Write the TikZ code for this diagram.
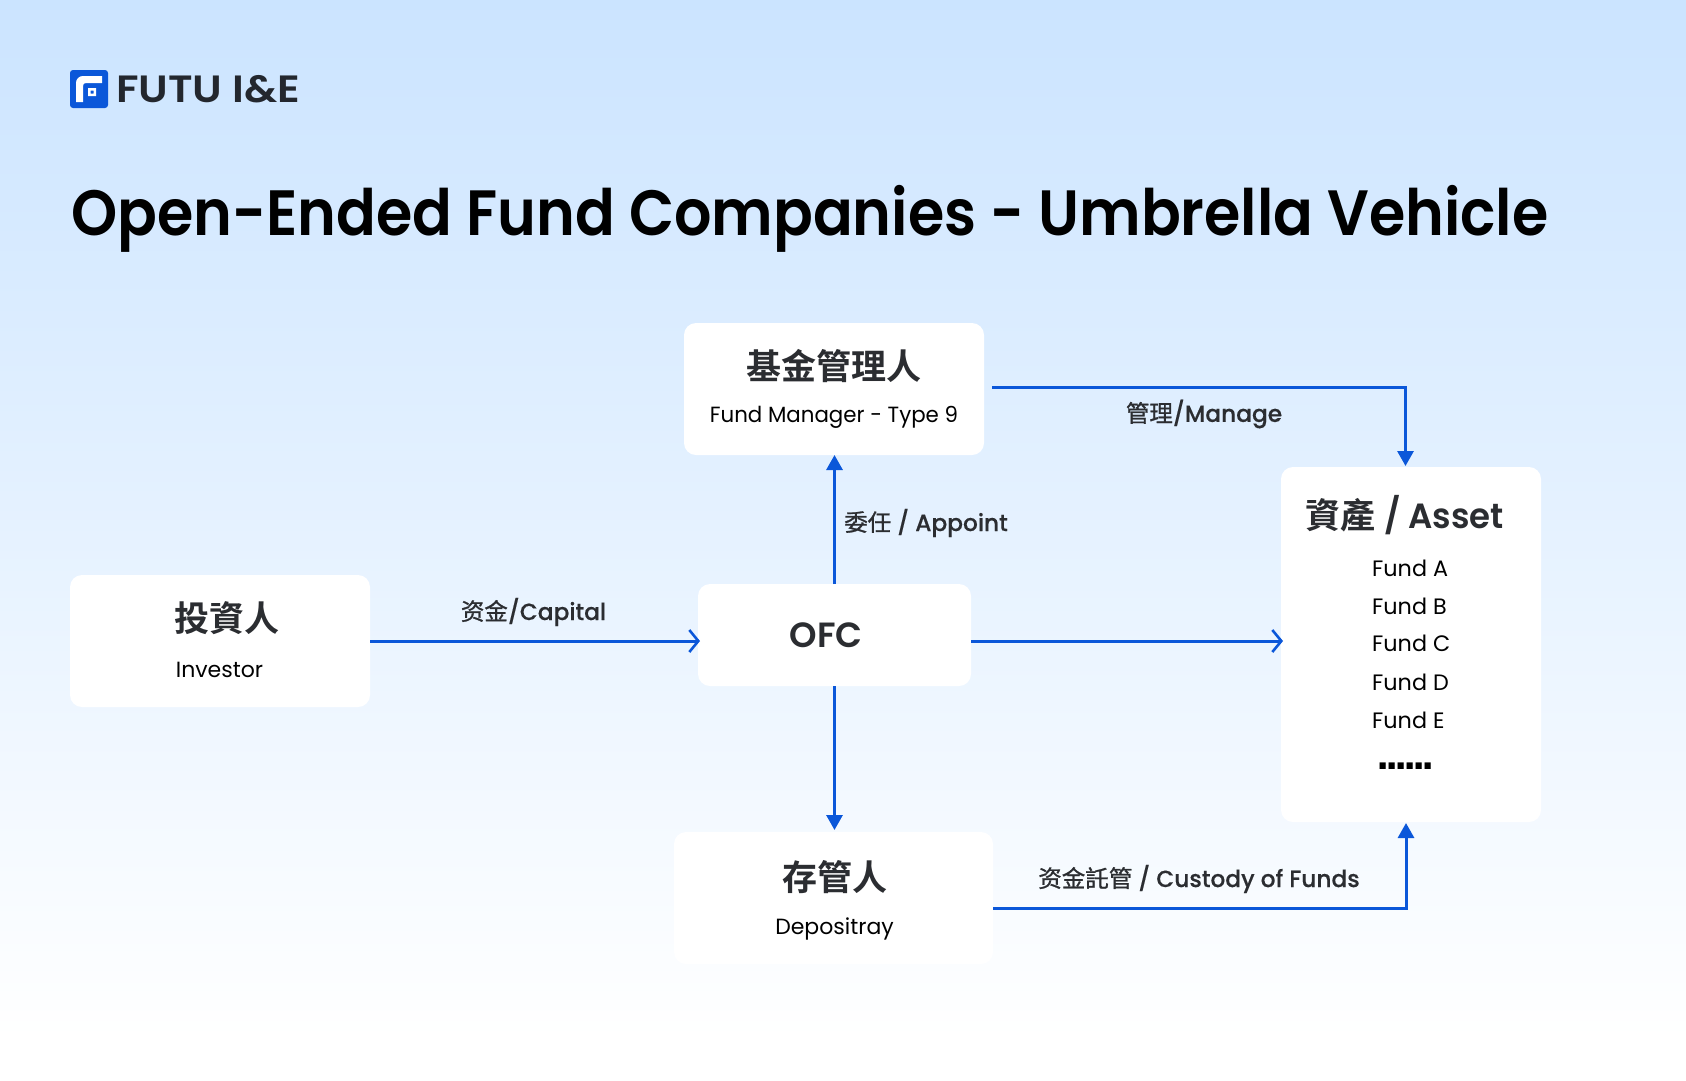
\documentclass[tikz,border=0pt]{standalone}
\usepackage{fontspec}
\usetikzlibrary{arrows.meta,calc}
\setmainfont{Poppins}[BoldFont={Poppins SemiBold}]
\newfontfamily\cjkm{Noto Sans CJK TC}[BoldFont={Noto Sans CJK TC Bold}]
\newfontfamily\cjkl{Noto Sans CJK TC}[FakeBold=1.0]
\newfontfamily\labfont{Poppins Medium}[FakeStretch=0.99,FakeBold=0.25]
\newfontfamily\assetfont{Poppins SemiBold}[FakeStretch=0.97]
\newfontfamily\titlefont{Poppins SemiBold}[FakeStretch=0.918]
\newfontfamily\logofont{Poppins SemiBold}[FakeStretch=1.12]
\newfontfamily\subfont{Poppins}[FakeStretch=0.97]
\newfontfamily\dotfont{DejaVu Sans Bold}[LetterSpace=-12]
\newcommand{\hz}[1]{{\cjkm\bfseries #1}}
\newcommand{\lz}[1]{{\cjkl #1}}
\definecolor{flowblue}{HTML}{0B57D9}
\definecolor{inkdark}{HTML}{2B2D31}
\definecolor{logoink}{HTML}{23272E}
\definecolor{skytop}{HTML}{CBE4FF}
\tikzset{
  panel/.style={fill=white,rounded corners=12pt,inner sep=0pt,outer sep=0pt,anchor=north west},
  head/.style={inner sep=0pt,text=inkdark,font=\fontsize{35}{35}\selectfont\bfseries},
  sub/.style={inner sep=0pt,text=black,font=\fontsize{22}{22}\selectfont},
  lab/.style={inner sep=0pt,text=inkdark,font=\fontsize{23.5}{23}\labfont},
  fundtxt/.style={inner sep=0pt,anchor=west,text=black,font=\fontsize{22.3}{22}\selectfont},
  flow/.style={draw=flowblue,line width=3pt},
  solidtip/.style={-{Triangle[length=15pt,width=16pt]}},
  opentip/.style={-{Straight Barb[length=9pt,width=22pt,line width=2.6pt]}},
}
\begin{document}
\begin{tikzpicture}[x=1pt,y=-1pt]
\useasboundingbox (0,0) rectangle (1686,1080);
\fill[white] (0,0) rectangle (1686,1080);
\shade[top color=skytop,bottom color=white] (0,0) rectangle (1686,1040);
% logo
\node[fill=flowblue,rounded corners=3pt,inner sep=0pt,outer sep=0pt,anchor=north west,minimum width=38pt,minimum height=38pt] (logo) at (70,70) {};
\fill[white] (76,102) -- (76,83) .. controls (76,79) and (79,76) .. (83,76) -- (102,76) -- (102,83) -- (86,83) .. controls (84,83) and (83,84) .. (83,86) -- (83,102) -- cycle;
\fill[white,even odd rule] (88,88) rectangle (96,96) (90.5,90.5) rectangle (93.5,93.5);
\node[inner sep=0pt,anchor=west,text=logoink,font=\fontsize{38}{38}\logofont] (logotxt) at (116,89) {FUTU I\&E};
% title
\node[inner sep=0pt,anchor=base west,text=black,font=\fontsize{64}{64}\titlefont] (title) at (71,235) {Open-Ended Fund Companies - Umbrella Vehicle};
% boxes
\node[panel,minimum width=300pt,minimum height=132pt] (investor) at (70,575) {};
\node[panel,minimum width=300pt,minimum height=132pt] (manager) at (684,323) {};
\node[panel,minimum width=273pt,minimum height=102pt] (ofc) at (698,584) {};
\node[panel,minimum width=319pt,minimum height=132pt] (depositary) at (674,832) {};
\node[panel,minimum width=260pt,minimum height=355pt] (asset) at (1281,467) {};
% box text
\node[head] (t1) at (227,618) {\hz{投資人}};
\node[sub] (t2) at (219.5,670) {Investor};
\node[head] (t3) at (834,366) {\hz{基金管理人}};
\node[sub,font=\fontsize{22}{22}\subfont] (t4) at (834,417) {Fund Manager - Type 9};
\node[head] (t5) at (826,635) {OFC};
\node[head] (t6) at (834.5,877) {\hz{存管人}};
\node[sub] (t7) at (834.5,929) {Depositray};
\node[inner sep=0pt,text=inkdark,font=\fontsize{35}{35}\assetfont] (t8) at (1405,515) {\hz{資產} / Asset};
\node[fundtxt] (fa) at (1372,568) {Fund A};
\node[fundtxt] (fb) at (1372,606) {Fund B};
\node[fundtxt] (fc) at (1372,643.5) {Fund C};
\node[fundtxt] (fd) at (1372,682) {Fund D};
\node[fundtxt] (fe) at (1372,720) {Fund E};
\node[inner sep=0pt,text=black,font=\fontsize{35}{35}\dotfont] (fdots) at (1405.5,766) {......};
% labels
\node[lab] (l1) at (533.5,612) {\lz{资金}/Capital};
\node[lab] (l2) at (1204,414) {\lz{管理}/Manage};
\node[lab] (l3) at (926,523) {\lz{委任} / Appoint};
\node[lab] (l4) at (1199,879) {\lz{资金託管} / Custody of Funds};
% connector anchors
\coordinate (mgrout) at (992,387);
\coordinate (assettop) at (1405.5,466);
\coordinate (depout) at (depositary.east |- 0,908);
\coordinate (assetbot) at (1406,823);
\coordinate (invout) at (investor.east |- 0,641);
\coordinate (ofcin) at ($(ofc.west |- 0,641)+(2,0)$);
\coordinate (ofcout) at (ofc.east |- 0,641);
\coordinate (assetin) at ($(asset.west |- 0,641)+(2,0)$);
% connectors
\draw[flow,opentip] (invout) -- (ofcin);
\draw[flow,opentip] (ofcout) -- (assetin);
\draw[flow,solidtip] (ofc.north) -- (ofc.north |- manager.south);
\draw[flow,solidtip] (ofc.south) -- ($(ofc.south |- depositary.north)+(0,-2)$);
\draw[flow,solidtip] (mgrout) -| (assettop);
\draw[flow,solidtip] (depout) -| (assetbot);
\end{tikzpicture}
\end{document}
